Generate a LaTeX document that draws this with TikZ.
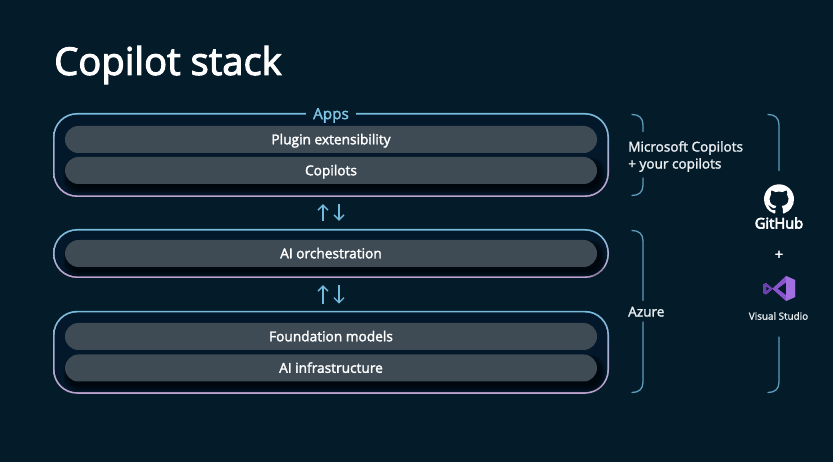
\documentclass[tikz,border=0pt]{standalone}
\usepackage{fontspec}
\setmainfont{Open Sans}
\usetikzlibrary{arrows.meta,svg.path}
\definecolor{bgc}{HTML}{041B2A}
\definecolor{innerc}{HTML}{03182A}
\definecolor{pillc}{HTML}{3E4B54}
\definecolor{frametop}{HTML}{78BCDD}
\definecolor{framemid}{HTML}{A9B0D2}
\definecolor{framebot}{HTML}{BDA2CC}
\definecolor{arrowc}{HTML}{72BBDD}
\definecolor{bracketc}{HTML}{5E9DBC}
\definecolor{labelc}{HTML}{E9EEF1}
\definecolor{appsc}{HTML}{80C5E6}
\definecolor{vsmid}{HTML}{8A55CC}
\definecolor{vslight}{HTML}{A26FE0}
\definecolor{vsdark}{HTML}{6E3FAE}
\newcommand{\heavier}[2]{\special{pdf:code 2 Tr #1 w}#2\special{pdf:code 0 Tr 1 w}}
\tikzset{
  x=1pt,y=-1pt,
  frameouter/.style={rectangle,rounded corners=24pt,inner sep=0pt,minimum width=556pt,top color=frametop,bottom color=framebot,middle color=framemid},
  frameinner/.style={rectangle,rounded corners=22.5pt,inner sep=0pt,minimum width=552.6pt,fill=innerc},
  pill/.style={rectangle,rounded corners=13.5pt,inner sep=0pt,minimum width=532pt,minimum height=27pt,text height=9.6pt,text depth=0pt,fill=pillc,text=white,font=\fontsize{13.7}{15}\selectfont},
  updown/.style={draw=arrowc,line width=1.4pt,-{Straight Barb[length=5pt,width=10pt,line width=1.3pt]}},
  bracket/.style={draw=bracketc,line width=1.3pt,line cap=round},
  sidelabel/.style={inner sep=0pt,anchor=west,align=left,text=labelc,font=\fontsize{13.6}{17}\selectfont},
}
\newcommand{\pillshadow}[4]{%
  \foreach \g in {0,1.5,3,4.5}{%
    \fill[black,opacity=0.22,rounded corners=13.5pt] (#1+3-\g,#2+5-\g) rectangle (#3+3+\g,#4+5+\g);}}
\newcommand{\pilltext}[1]{\heavier{0.3}{#1}}
\begin{document}
\begin{tikzpicture}
\useasboundingbox (0,0) rectangle (833,462);
\fill[bgc] (0,0) rectangle (833,462);

\node[inner sep=0pt,anchor=west,text=white,font=\fontsize{38.2}{42}\selectfont] (title) at (54,65) {\heavier{1.05}{Copilot stack}};

% frames
\node[frameouter,minimum height=84pt] (f1) at (331,155) {};
\node[frameinner,minimum height=80.6pt] (f1i) at (331,155) {};
\node[frameouter,minimum height=49pt] (f2) at (331,253.5) {};
\node[frameinner,minimum height=45.6pt] (f2i) at (331,253.5) {};
\node[frameouter,minimum height=83pt] (f3) at (331,352.3) {};
\node[frameinner,minimum height=79.6pt] (f3i) at (331,352.3) {};

% pill shadows
\pillshadow{65}{157}{597}{184}
\pillshadow{65}{240}{597}{267}
\pillshadow{65}{354.5}{597}{381.5}

% pills
\node[pill] (p1) at (331,139.5) {\pilltext{Plugin extensibility}};
\node[pill] (p2) at (331,170.5) {\pilltext{Copilots}};
\node[pill] (p3) at (331,253.5) {\pilltext{AI orchestration}};
\node[pill] (p4) at (331,336.5) {\pilltext{Foundation models}};
\node[pill] (p5) at (331,368) {\pilltext{AI infrastructure}};

% Apps label on the frame
\node[fill=bgc,inner sep=0pt,minimum width=50pt,minimum height=8pt] (appsgap) at (331,114) {};
\node[inner sep=0pt,text=appsc,font=\fontsize{15.3}{17}\selectfont] (apps) at (331,115.5) {\heavier{0.3}{Apps}};

% arrows between frames
\draw[updown,shorten <=8pt,shorten >=7pt] ([xshift=-8pt]f2.north) -- ([xshift=-8pt]f1.south);
\draw[updown,shorten <=7pt,shorten >=8pt] ([xshift=8pt]f1.south) -- ([xshift=8pt]f2.north);
\draw[updown,shorten <=7pt,shorten >=7pt] ([xshift=-8pt]f3.north) -- ([xshift=-8pt]f2.south);
\draw[updown,shorten <=7pt,shorten >=7pt] ([xshift=8pt]f2.south) -- ([xshift=8pt]f3.north);

% side labels
\node[sidelabel] (ms) at (628,156.5) {\heavier{0.25}{Microsoft Copilots}\\\heavier{0.25}{+ your copilots}};
\node[sidelabel] (az) at (628,311.7) {\heavier{0.25}{Azure}};

% brackets
\draw[bracket] (632,114.5) .. controls (639,114.5) and (643,118) .. (643,125) -- (643,131.5);
\draw[bracket] (643,178) -- (643,185) .. controls (643,192) and (639,195.5) .. (632,195.5);
\draw[bracket] (632,230.5) .. controls (639,230.5) and (643,234) .. (643,241) -- (643,300.5);
\draw[bracket] (643,322) -- (643,382) .. controls (643,389) and (639,392.5) .. (632,392.5);
\draw[bracket] (768,114.5) .. controls (775,114.5) and (779,118) .. (779,125) -- (779,170.5);
\draw[bracket] (779,337) -- (779,382) .. controls (779,389) and (775,392.5) .. (768,392.5);

% GitHub mark
\begin{scope}[shift={(764,184.3)},scale=1.875,yscale=-1]
\fill[white] svg {M 8 0 C 3.58 0 0 3.58 0 8 c 0 3.54 2.29 6.53 5.47 7.59 c 0.4 0.07 0.55 -0.17 0.55 -0.38 c 0 -0.19 -0.01 -0.82 -0.01 -1.49 c -2.01 0.37 -2.53 -0.49 -2.69 -0.94 c -0.09 -0.23 -0.48 -0.94 -0.82 -1.13 c -0.28 -0.15 -0.68 -0.52 -0.01 -0.53 c 0.63 -0.01 1.08 0.58 1.23 0.82 c 0.72 1.21 1.87 0.87 2.33 0.66 c 0.07 -0.52 0.28 -0.87 0.51 -1.07 c -1.78 -0.2 -3.64 -0.89 -3.64 -3.95 c 0 -0.87 0.31 -1.59 0.82 -2.15 c -0.08 -0.2 -0.36 -1.02 0.08 -2.12 c 0 0 0.67 -0.21 2.2 0.82 c 0.64 -0.18 1.32 -0.27 2 -0.27 c 0.68 0 1.36 0.09 2 0.27 c 1.53 -1.04 2.2 -0.82 2.2 -0.82 c 0.44 1.1 0.16 1.92 0.08 2.12 c 0.51 0.56 0.82 1.27 0.82 2.15 c 0 3.07 -1.87 3.75 -3.65 3.95 c 0.29 0.25 0.54 0.73 0.54 1.48 c 0 1.07 -0.01 1.93 -0.01 2.2 c 0 0.21 0.15 0.46 0.55 0.38 C 13.71 14.53 16 11.53 16 8 c 0 -4.42 -3.58 -8 -8 -8 z};
\end{scope}
\node[inner sep=0pt,text=white,font=\fontsize{14.7}{16}\selectfont] (gh) at (779,223) {\heavier{0.6}{GitHub}};
\node[inner sep=0pt,text=white,font=\fontsize{14}{16}\selectfont] (plus) at (779,255) {\heavier{0.5}{+}};

% Visual Studio mark
\fill[even odd rule,vsmid] (786,276) -- (772.5,288.5) -- (766,283) -- (763,284.5) -- (763,293) -- (766,294.5) -- (772.5,289) -- (786,301) -- (795,297) -- (795,280) -- cycle
  (786,282.5) -- (786,295) -- (777.5,288.7) -- cycle
  (766,286) -- (766,291.5) -- (769.5,288.7) -- cycle;
\fill[vslight] (786,276) -- (795,280) -- (795,297) -- (786,301) -- cycle;
\fill[vsdark,even odd rule] (766,283) -- (763,284.5) -- (763,293) -- (766,294.5) -- (772.5,289) -- (772.5,288.5) -- cycle (766,286) -- (766,291.5) -- (769.5,288.7) -- cycle;
\node[inner sep=0pt,text=labelc,font=\fontsize{9.9}{11}\selectfont] (vs) at (778.5,316) {\heavier{0.15}{Visual Studio}};
\end{tikzpicture}
\end{document}
